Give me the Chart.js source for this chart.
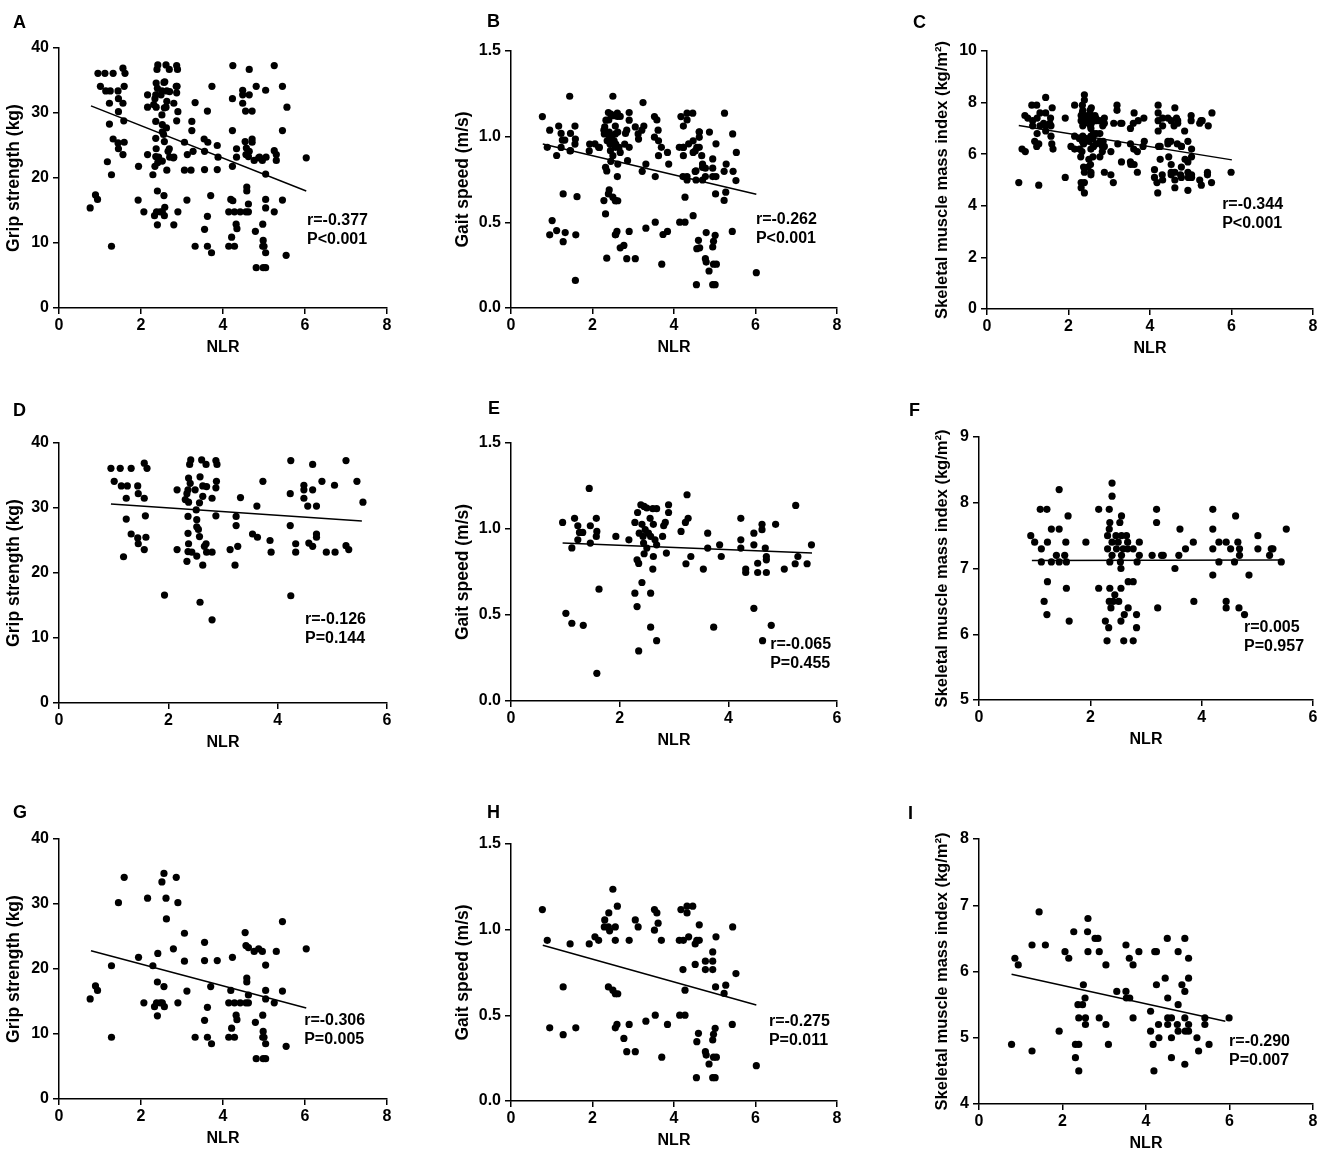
<!DOCTYPE html>
<html><head><meta charset="utf-8">
<script src="https://cdn.jsdelivr.net/npm/chart.js@4.4.1/dist/chart.umd.min.js"></script>
<style>
html,body{margin:0;padding:0;background:#fff;}
body{width:1325px;height:1158px;position:relative;overflow:hidden;font-family:"Liberation Sans",Arial,sans-serif;}
canvas{position:absolute;}
.lbl{position:absolute;font-weight:bold;font-size:18px;line-height:18px;color:#000;}
</style></head><body>
<script>
// ---------- tick labels ----------
const ticksNlr8 = [0, 2, 4, 6, 8];
const ticksNlr6 = [0, 2, 4, 6];
const ticksGrip = [0, 10, 20, 30, 40];
const ticksGait = [0, 0.5, 1.0, 1.5];
const ticksSmiAll = [0, 2, 4, 6, 8, 10];
const ticksSmiD = [5, 6, 7, 8, 9];
const ticksSmiG = [4, 5, 6, 7, 8];

// ---------- group D / E / F (first subgroup): [NLR, value] ----------
const dGrip = [[0.95,36.1],[1.01,34.1],[1.12,36.1],[1.14,33.4],[1.25,33.4],[1.23,31.5],[1.18,22.5],[1.23,28.3],[1.32,36.1],[1.32,26.0],[1.44,33.4],[1.45,32.2],[1.45,24.5],[1.44,25.4],[1.56,36.9],[1.61,36.1],[1.56,31.5],[1.58,28.8],[1.59,25.5],[1.56,23.6],[1.93,16.6],[2.16,32.8],[2.16,23.6],[2.34,21.8],[2.31,31.3],[2.34,32.2],[2.36,32.8],[2.37,34.6],[2.39,36.7],[2.41,37.4],[2.40,33.8],[2.37,30.9],[2.36,28.7],[2.36,26.1],[2.37,24.5],[2.36,23.3],[2.43,23.2],[2.49,32.8],[2.51,29.7],[2.52,28.2],[2.52,27.1],[2.57,25.6],[2.55,26.7],[2.58,34.8],[2.57,30.8],[2.52,22.6],[2.58,15.5],[2.61,37.4],[2.63,33.4],[2.63,31.8],[2.63,21.2],[2.66,24.1],[2.69,24.5],[2.70,23.2],[2.69,36.7],[2.80,31.5],[2.80,23.2],[2.80,12.8],[2.70,33.3],[2.87,37.3],[2.89,36.7],[2.88,34.1],[2.87,33.1],[2.87,28.8],[3.13,23.6],[3.24,28.7],[3.24,27.3],[3.22,21.2],[3.27,24.1],[3.32,31.6],[3.54,26.0],[3.63,25.5],[3.62,30.3],[3.73,34.1],[3.86,25.0],[3.88,23.2],[4.24,37.3],[4.23,32.2],[4.23,27.3],[4.24,16.5],[4.33,24.5],[4.33,23.2],[4.48,33.5],[4.48,32.8],[4.48,31.5],[4.55,30.3],[4.57,24.6],[4.64,36.7],[4.64,32.8],[4.64,24.1],[4.71,30.3],[4.71,26.0],[4.71,25.5],[4.81,34.1],[4.89,23.2],[5.05,23.2],[5.04,33.5],[5.25,37.3],[5.25,24.2],[5.30,23.6],[5.45,34.1],[5.56,30.9]];

const eGait = [[0.95,1.038],[1.01,0.51],[1.12,0.89],[1.12,0.452],[1.17,1.062],[1.23,1.019],[1.23,0.937],[1.26,0.98],[1.32,0.98],[1.33,0.44],[1.44,1.236],[1.46,1.019],[1.46,0.918],[1.57,1.062],[1.57,0.957],[1.58,0.986],[1.58,0.161],[1.62,0.65],[1.93,0.957],[2.17,0.937],[2.28,0.627],[2.32,0.549],[2.35,0.291],[2.32,0.821],[2.35,0.80],[2.28,1.038],[2.33,1.096],[2.36,0.976],[2.39,1.141],[2.41,1.027],[2.43,0.957],[2.44,0.918],[2.45,1.131],[2.47,0.996],[2.50,1.122],[2.53,0.976],[2.56,1.062],[2.57,0.957],[2.61,1.118],[2.62,1.027],[2.65,0.937],[2.68,1.118],[2.68,0.908],[2.45,0.856],[2.50,0.889],[2.41,0.689],[2.57,0.627],[2.57,0.429],[2.61,0.767],[2.62,0.840],[2.68,0.351],[2.79,0.957],[2.81,1.019],[2.84,1.038],[2.86,0.860],[2.90,1.141],[2.90,1.096],[3.13,0.986],[3.22,0.798],[3.21,1.038],[3.24,1.199],[3.26,1.062],[3.31,0.840],[3.54,0.767],[3.62,0.976],[3.62,0.889],[3.73,0.429],[3.84,0.908],[3.87,0.840],[4.23,1.062],[4.23,0.937],[4.23,0.889],[4.32,0.767],[4.32,0.747],[4.47,0.908],[4.47,0.976],[4.47,0.539],[4.54,0.801],[4.54,0.747],[4.62,1.027],[4.62,0.996],[4.63,0.351],[4.68,0.889],[4.70,0.840],[4.70,0.821],[4.70,0.747],[4.79,0.44],[4.87,1.027],[5.03,0.767],[5.23,0.798],[5.24,1.137],[5.28,0.840],[5.45,0.798],[5.53,0.908]];

const fSmi = [[0.93,7.5],[1.00,7.4],[1.10,7.9],[1.22,7.9],[1.12,7.3],[1.12,7.1],[1.17,6.5],[1.22,6.3],[1.23,6.8],[1.23,7.4],[1.30,7.6],[1.30,7.1],[1.44,7.6],[1.44,8.2],[1.39,7.2],[1.44,7.1],[1.54,7.2],[1.56,7.4],[1.57,7.1],[1.57,6.7],[1.60,7.8],[1.62,6.2],[1.92,7.4],[2.15,7.9],[2.15,6.7],[2.27,6.2],[2.30,5.9],[2.31,7.3],[2.31,7.5],[2.33,6.1],[2.34,7.9],[2.34,6.5],[2.35,7.7],[2.34,7.6],[2.35,7.1],[2.35,6.7],[2.37,6.4],[2.39,8.3],[2.39,8.1],[2.39,7.4],[2.39,7.2],[2.41,6.5],[2.44,6.6],[2.46,7.5],[2.47,7.3],[2.50,7.4],[2.51,6.5],[2.53,7.7],[2.54,7.1],[2.55,7.0],[2.55,6.2],[2.55,6.7],[2.56,7.8],[2.56,7.5],[2.56,7.2],[2.59,7.3],[2.60,5.9],[2.61,6.3],[2.65,7.5],[2.67,7.4],[2.68,6.4],[2.67,7.3],[2.68,6.8],[2.77,6.8],[2.77,5.9],[2.77,7.3],[2.83,6.3],[2.83,6.1],[2.84,7.1],[2.88,7.4],[2.88,7.2],[3.11,7.2],[3.19,7.9],[3.19,7.7],[3.21,6.4],[3.28,7.2],[3.31,7.2],[3.52,7.0],[3.59,7.2],[3.61,7.6],[3.71,7.3],[3.85,7.4],[3.86,6.5],[4.20,7.9],[4.20,7.6],[4.20,7.3],[4.20,6.9],[4.31,7.4],[4.31,7.1],[4.44,6.5],[4.44,6.4],[4.44,7.4],[4.52,7.3],[4.59,7.1],[4.61,7.8],[4.65,7.4],[4.67,6.4],[4.68,7.3],[4.68,7.2],[4.77,6.3],[4.85,6.9],[5.01,7.5],[5.01,7.3],[5.22,7.2],[5.25,7.3],[5.28,7.3],[5.43,7.1],[5.52,7.6]];

// ---------- group G / H / I (second subgroup) ----------
const gGrip = [[0.76,15.4],[0.89,17.4],[0.94,16.7],[1.28,20.5],[1.28,9.5],[1.45,30.2],[1.59,34.1],[1.94,21.8],[2.07,14.8],[2.16,30.9],[2.29,20.5],[2.33,14.2],[2.38,14.8],[2.41,22.4],[2.40,18.0],[2.40,12.8],[2.47,14.8],[2.52,14.8],[2.56,17.3],[2.57,14.2],[2.51,33.4],[2.56,34.7],[2.61,30.9],[2.62,27.7],[2.79,23.1],[2.86,34.1],[2.90,30.2],[2.90,14.8],[3.06,25.5],[3.06,21.2],[3.12,16.6],[3.32,9.5],[3.55,24.1],[3.55,21.3],[3.55,12.1],[3.62,14.1],[3.62,9.5],[3.70,17.3],[3.72,8.5],[3.86,21.3],[4.14,14.8],[4.14,9.5],[4.19,16.7],[4.21,10.9],[4.23,21.8],[4.28,9.5],[4.28,14.8],[4.32,12.9],[4.34,12.2],[4.42,14.8],[4.54,25.6],[4.56,23.6],[4.58,18.6],[4.58,18.0],[4.62,23.3],[4.62,16.0],[4.62,14.8],[4.56,14.8],[4.79,11.8],[4.81,6.2],[4.76,22.7],[4.87,23.1],[4.96,22.7],[4.97,12.9],[4.98,10.4],[4.97,9.5],[5.00,9.5],[5.04,20.6],[5.04,16.7],[5.04,15.4],[5.04,8.5],[4.98,6.2],[5.04,6.2],[5.25,14.8],[5.30,22.7],[5.45,27.3],[5.45,16.6],[5.54,8.1],[6.03,23.1]];

const hGait = [[0.77,1.117],[0.89,0.938],[0.95,0.427],[1.28,0.666],[1.28,0.387],[1.45,0.917],[1.59,0.427],[1.92,0.917],[2.06,0.958],[2.15,0.938],[2.30,1.057],[2.29,1.016],[2.40,1.098],[2.39,0.666],[2.39,1.016],[2.42,0.993],[2.50,1.236],[2.50,0.647],[2.56,0.626],[2.61,1.137],[2.56,1.016],[2.56,0.938],[2.56,0.427],[2.60,0.447],[2.62,0.626],[2.77,0.365],[2.84,0.288],[2.90,0.447],[2.90,0.938],[3.05,1.057],[3.05,0.288],[3.12,1.016],[3.31,0.466],[3.52,1.117],[3.58,1.098],[3.52,0.997],[3.54,0.501],[3.61,1.038],[3.69,0.938],[3.70,0.256],[3.84,0.447],[4.13,0.938],[4.17,1.117],[4.23,0.938],[4.22,0.767],[4.27,0.647],[4.14,0.501],[4.27,0.501],[4.32,1.098],[4.32,1.137],[4.36,0.958],[4.46,1.137],[4.52,0.917],[4.52,0.797],[4.56,0.938],[4.62,0.938],[4.62,1.028],[4.55,0.136],[4.56,0.346],[4.60,0.395],[4.77,0.288],[4.79,0.268],[4.77,0.816],[4.77,0.767],[4.86,0.216],[4.95,0.870],[4.95,0.816],[4.95,0.767],[4.95,0.356],[4.97,0.389],[5.01,0.424],[4.95,0.136],[5.01,0.136],[5.04,0.256],[4.97,0.256],[5.03,0.958],[5.02,0.666],[5.23,0.628],[5.27,0.676],[5.43,0.447],[5.44,1.016],[5.52,0.744],[6.02,0.206]];

const iSmi = [[0.78,4.9],[0.86,6.2],[0.94,6.1],[1.27,6.4],[1.27,4.8],[1.44,6.9],[1.59,6.4],[1.92,5.1],[2.06,6.3],[2.15,6.2],[2.27,6.6],[2.31,4.9],[2.31,4.7],[2.37,5.5],[2.39,4.9],[2.39,4.5],[2.39,5.3],[2.48,5.5],[2.50,5.8],[2.54,5.6],[2.55,5.3],[2.55,5.2],[2.60,6.6],[2.61,6.8],[2.61,6.3],[2.78,6.5],[2.85,6.5],[2.88,6.3],[2.88,5.3],[3.04,6.1],[3.04,5.2],[3.10,4.9],[3.30,5.7],[3.52,6.4],[3.52,5.7],[3.53,5.6],[3.60,6.2],[3.61,5.6],[3.69,6.1],[3.69,5.3],[3.83,6.3],[4.11,5.4],[4.11,5.1],[4.17,4.9],[4.19,4.5],[4.21,6.3],[4.25,6.3],[4.25,5.8],[4.30,5.2],[4.31,5.0],[4.46,5.9],[4.51,6.5],[4.52,5.6],[4.52,5.3],[4.52,5.2],[4.61,5.3],[4.61,5.0],[4.61,4.7],[4.75,5.2],[4.77,5.5],[4.77,6.3],[4.77,5.1],[4.86,5.8],[4.93,6.5],[4.93,5.7],[4.93,5.3],[4.93,4.6],[4.94,5.1],[5.02,6.2],[5.02,5.9],[5.02,5.2],[5.02,5.1],[5.22,5.0],[5.26,4.8],[5.41,5.3],[5.41,5.2],[5.51,4.9],[5.99,5.3]];

// ---------- fitted regression lines (endpoints) ----------
const aFit = [[0.78,31.1],[6.03,18.0]];
const bFit = [[0.78,0.957],[6.02,0.664]];
const cFit = [[0.78,7.11],[6.01,5.78]];
const dFit = [[0.95,30.6],[5.54,28.0]];
const eFit = [[0.95,0.918],[5.54,0.860]];
const fFit = [[0.95,7.12],[5.43,7.13]];
const gFit = [[0.78,22.8],[6.03,14.0]];
const hFit = [[0.78,0.909],[6.02,0.560]];
const iFit = [[0.78,5.96],[5.90,5.25]];

// ---------- statistics ----------
const aStats = ['r=-0.377','P<0.001'];
const bStats = ['r=-0.262','P<0.001'];
const cStats = ['r=-0.344','P<0.001'];
const dStats = ['r=-0.126','P=0.144'];
const eStats = ['r=-0.065','P=0.455'];
const fStats = ['r=0.005','P=0.957'];
const gStats = ['r=-0.306','P=0.005'];
const hStats = ['r=-0.275','P=0.011'];
const iStats = ['r=-0.290','P=0.007'];

const yTitleGrip = 'Grip strength (kg)';
const yTitleGait = 'Gait speed (m/s)';
const yTitleSmi = 'Skeletal muscle mass index (kg/m\u00B2)';
const xTitle = 'NLR';

const FONT = '"Liberation Sans", Arial, sans-serif';
const int = v => String(v);
const one = v => Number(v).toFixed(1);

const panels = [
  {id:'A', pts:dGrip.concat(gGrip), fit:aFit, stats:aStats, statAt:[6.05,13.5], xT:ticksNlr8, yT:ticksGrip, yTitle:yTitleGrip, ts:17.5, fmt:int, box:{l:59,r:387,t:48,b:308}, cl:0, tx:14.5, lab:[13,13]},
  {id:'B', pts:eGait.concat(hGait), fit:bFit, stats:bStats, statAt:[6.01,0.514], xT:ticksNlr8, yT:ticksGait, yTitle:yTitleGait, ts:17.5, fmt:one, box:{l:511,r:837,t:51,b:308}, cl:440, tx:463, lab:[487,12]},
  {id:'C', pts:fSmi.concat(iSmi), fit:cFit, stats:cStats, statAt:[5.77,4.03], xT:ticksNlr8, yT:ticksSmiAll, yTitle:yTitleSmi, ts:16.5, fmt:int, box:{l:987,r:1313,t:51,b:309}, cl:920, tx:942, lab:[913,13]},
  {id:'D', pts:dGrip, fit:dFit, stats:dStats, statAt:[4.50,12.8], xT:ticksNlr6, yT:ticksGrip, yTitle:yTitleGrip, ts:17.5, fmt:int, box:{l:59,r:387,t:443,b:703}, cl:0, tx:14.5, lab:[13,401]},
  {id:'E', pts:eGait, fit:eFit, stats:eStats, statAt:[4.77,0.326], xT:ticksNlr6, yT:ticksGait, yTitle:yTitleGait, ts:17.5, fmt:one, box:{l:511,r:837,t:443,b:701}, cl:440, tx:463, lab:[488,399]},
  {id:'F', pts:fSmi, fit:fFit, stats:fStats, statAt:[4.76,6.10], xT:ticksNlr6, yT:ticksSmiD, yTitle:yTitleSmi, ts:16.5, fmt:int, box:{l:979,r:1313,t:437,b:700}, cl:920, tx:942, lab:[909,401]},
  {id:'G', pts:gGrip, fit:gFit, stats:gStats, statAt:[5.98,12.0], xT:ticksNlr8, yT:ticksGrip, yTitle:yTitleGrip, ts:17.5, fmt:int, box:{l:59,r:387,t:839,b:1099}, cl:0, tx:14.5, lab:[13,803]},
  {id:'H', pts:hGait, fit:hFit, stats:hStats, statAt:[6.33,0.461], xT:ticksNlr8, yT:ticksGait, yTitle:yTitleGait, ts:17.5, fmt:one, box:{l:511,r:837,t:844,b:1101}, cl:440, tx:463, lab:[487,803]},
  {id:'I', pts:iSmi, fit:iFit, stats:iStats, statAt:[5.99,4.94], xT:ticksNlr8, yT:ticksSmiG, yTitle:yTitleSmi, ts:16.5, fmt:int, box:{l:979,r:1313,t:839,b:1104}, cl:920, tx:942, lab:[908,804]}
];

const statsPlugin = {
  id: 'statsText',
  afterDraw(chart) {
    const o = chart.config.options.plugins.statsText;
    const {ctx} = chart;
    const x = chart.scales.x.getPixelForValue(o.at[0]);
    const y = chart.scales.y.getPixelForValue(o.at[1]);
    ctx.save();
    ctx.fillStyle = '#000';
    ctx.font = 'bold 16px ' + FONT;
    ctx.textAlign = 'left';
    ctx.textBaseline = 'middle';
    o.lines.forEach((t, i) => ctx.fillText(t, x, y + i * 19));
    ctx.restore();
  }
};

const PT = 30, PR = 14, XH = 60;
const tickFont = {family: FONT, size: 16, weight: 'bold'};
const xTitleFont = {family: FONT, size: 16, weight: 'bold', lineHeight: 1.2};

panels.forEach(p => {
  const yw = p.box.l - p.cl;
  const W = yw + (p.box.r - p.box.l) + PR;
  const H = PT + (p.box.b - p.box.t) + XH;
  const c = document.createElement('canvas');
  c.width = W; c.height = H;
  c.style.left = p.cl + 'px'; c.style.top = (p.box.t - PT) + 'px';
  c.style.width = W + 'px'; c.style.height = H + 'px';
  document.body.appendChild(c);

  const lab = document.createElement('div');
  lab.className = 'lbl';
  lab.textContent = p.id;
  lab.style.left = p.lab[0] + 'px';
  lab.style.top = p.lab[1] + 'px';
  document.body.appendChild(lab);

  const axisCommon = {
    type: 'linear',
    grid: {display: true, drawOnChartArea: false, drawTicks: true, tickLength: 6, color: '#000', lineWidth: 1.5},
    border: {display: true, color: '#000', width: 1.5},
  };
  const yTitleFont = {family: FONT, size: p.ts, weight: 'bold', lineHeight: 1.2};

  new Chart(c, {
    type: 'scatter',
    data: {datasets: [
      {data: p.pts.map(([x, y]) => ({x, y})), pointRadius: 3.6, pointBackgroundColor: '#000', pointBorderWidth: 0, pointBorderColor: '#000', showLine: false},
      {data: p.fit.map(([x, y]) => ({x, y})), showLine: true, borderColor: '#000', borderWidth: 1.5, pointRadius: 0}
    ]},
    options: {
      responsive: false, animation: false, devicePixelRatio: 1,
      layout: {padding: {left: 0, top: PT, right: PR, bottom: 0}},
      plugins: {legend: {display: false}, tooltip: {enabled: false}, statsText: {lines: p.stats, at: p.statAt}},
      scales: {
        x: Object.assign({}, axisCommon, {
          position: 'bottom',
          min: p.xT[0], max: p.xT[p.xT.length - 1],
          afterBuildTicks: s => { s.ticks = p.xT.map(v => ({value: v})); },
          afterFit: s => { s.height = XH; },
          ticks: {color: '#000', font: tickFont, padding: 2, maxRotation: 0, autoSkip: false, callback: v => int(v)},
          title: {display: true, text: xTitle, color: '#000', font: xTitleFont, padding: {top: 0, bottom: XH - 40 - 9.6}}
        }),
        y: Object.assign({}, axisCommon, {
          position: 'left',
          min: p.yT[0], max: p.yT[p.yT.length - 1],
          afterBuildTicks: s => { s.ticks = p.yT.map(v => ({value: v})); },
          afterFit: s => { s.width = yw; },
          ticks: {color: '#000', font: tickFont, padding: 4, autoSkip: false, callback: v => p.fmt(v)},
          title: {display: true, text: p.yTitle, color: '#000', font: yTitleFont, padding: {top: p.tx - p.cl - p.ts * 0.6, bottom: 0}}
        })
      }
    },
    plugins: [statsPlugin]
  });
});
</script>
</body></html>
